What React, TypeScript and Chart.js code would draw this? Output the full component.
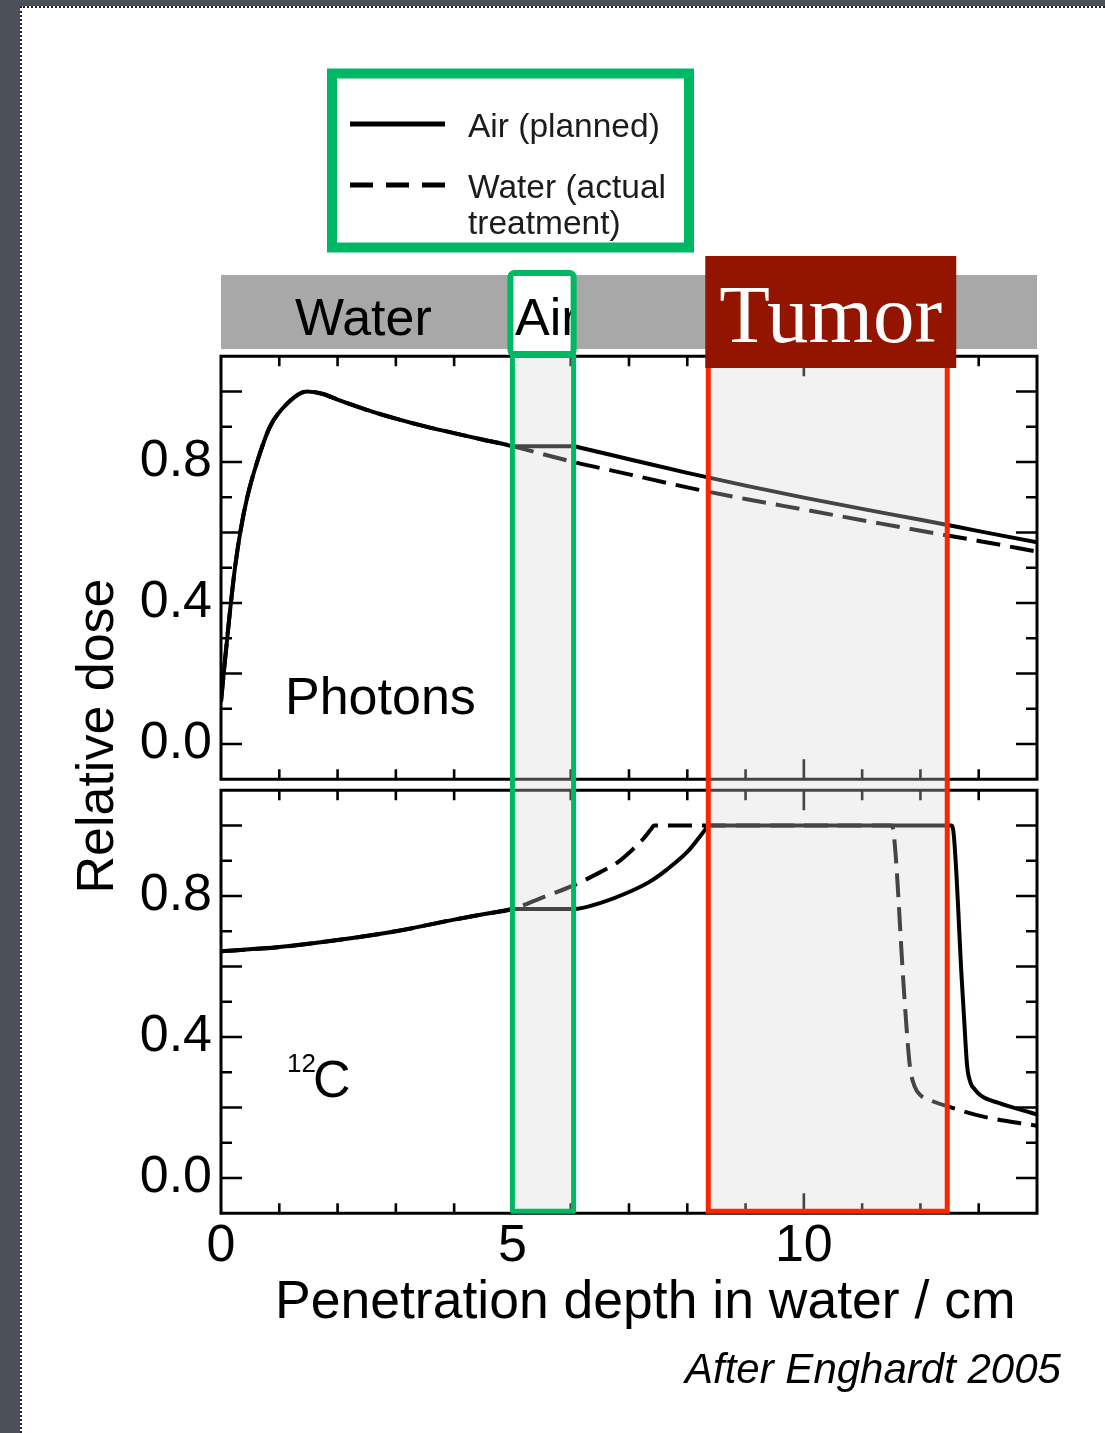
import React, { useEffect, useRef } from "react";
import { Chart, registerables } from "chart.js";

Chart.register(...registerables);

// ---------- data ----------
const photonAirDepth = [0, 0.07, 0.15, 0.24, 0.33, 0.45, 0.62, 0.84, 1.13, 1.47, 1.75, 2.0, 2.5, 3.0, 3.5, 4.0, 4.5, 4.9, 5.0, 6.05, 6.15, 7.0, 8.0, 9.0, 10.0, 11.0, 12.0, 13.0, 14.0];
const photonAirDose = [0.12, 0.24, 0.37, 0.5, 0.6, 0.7, 0.8, 0.9, 0.965, 1.0, 0.993, 0.977, 0.948, 0.923, 0.901, 0.882, 0.863, 0.849, 0.845, 0.845, 0.841, 0.808, 0.769, 0.733, 0.699, 0.667, 0.636, 0.604, 0.572];
const photonWaterDepth = [0, 0.07, 0.15, 0.24, 0.33, 0.45, 0.62, 0.84, 1.13, 1.47, 1.75, 2.0, 2.5, 3.0, 3.5, 4.0, 4.5, 4.9, 5.0, 6.05, 7.0, 8.0, 9.0, 10.0, 11.0, 12.0, 13.0, 14.0];
const photonWaterDose = [0.12, 0.24, 0.37, 0.5, 0.6, 0.7, 0.8, 0.9, 0.965, 1.0, 0.993, 0.977, 0.948, 0.923, 0.901, 0.882, 0.863, 0.849, 0.845, 0.8, 0.765, 0.728, 0.695, 0.665, 0.635, 0.605, 0.576, 0.546];

const carbonAirDepth = [0, 1, 2, 3, 4, 4.5, 4.9, 5.0, 6.05, 6.5, 7.05, 7.35, 7.65, 8.0, 8.2, 8.31, 8.36, 12.53, 12.56, 12.71, 12.75, 12.8, 12.86, 12.93, 13.05, 13.34, 13.9, 14.0];
const carbonAirDose = [0.643, 0.655, 0.675, 0.7, 0.733, 0.748, 0.76, 0.763, 0.763, 0.78, 0.815, 0.84, 0.875, 0.925, 0.965, 0.989, 1.0, 1.0, 0.99, 0.56, 0.45, 0.32, 0.27, 0.252, 0.232, 0.213, 0.185, 0.18];
const carbonWaterDepth = [0, 1, 2, 3, 4, 4.5, 5.0, 5.5, 6.05, 6.5, 6.8, 7.05, 7.25, 7.38, 7.43, 11.5, 11.53, 11.71, 11.76, 11.82, 11.9, 12.0, 12.22, 12.45, 13.08, 14.0];
const carbonWaterDose = [0.643, 0.655, 0.675, 0.7, 0.733, 0.748, 0.763, 0.795, 0.83, 0.867, 0.895, 0.93, 0.963, 0.99, 1.0, 1.0, 0.99, 0.55, 0.43, 0.316, 0.26, 0.235, 0.217, 0.204, 0.174, 0.148];

const seriesLabels = ["Air (planned)", "Water (actual treatment)"];
const xTickLabels = [0, 5, 10];
const yTickLabels = [0, 0.4, 0.8];
const xTickMarks = [1, 2, 3, 4, 5, 6, 7, 8, 9, 10, 11, 12, 13];
const xMajorMarks = [5, 10];
const yTickMarks = [0, 0.1, 0.2, 0.3, 0.4, 0.5, 0.6, 0.7, 0.8, 0.9, 1.0];
const yMajorMarks = [0, 0.2, 0.4, 0.6, 0.8, 1.0];
const airGapRange = [5.0, 6.05];
const tumorRange = [8.36, 12.46];
const layerLabels = ["Water", "Air", "Tumor"];
const panelLabels = ["Photons", "12", "C"];
const axisTitles = ["Relative dose", "Penetration depth in water / cm"];
const creditText = "After Enghardt 2005";

const SANS = "'Liberation Sans', Arial, Helvetica, sans-serif";
const SERIF = "'Liberation Serif', 'Times New Roman', serif";
const GREEN = "#00b864";
const RED = "#ff2400";

const toPoints = (xs: number[], ys: number[]) => xs.map((x, i) => ({ x, y: ys[i] }));

const framePlugin = {
  id: "panelFrame",
  afterDatasetsDraw(chart: any) {
    const { ctx, chartArea: a } = chart;
    const x = chart.scales.x;
    const y = chart.scales.y;
    ctx.save();
    ctx.strokeStyle = "#000";
    ctx.lineWidth = 2.6;
    ctx.beginPath();
    for (const v of xTickMarks) {
      const px = x.getPixelForValue(v);
      const len = xMajorMarks.includes(v) ? 20 : 10;
      ctx.moveTo(px, a.top);
      ctx.lineTo(px, a.top + len);
      ctx.moveTo(px, a.bottom);
      ctx.lineTo(px, a.bottom - len);
    }
    for (const v of yTickMarks) {
      const py = y.getPixelForValue(v);
      const len = yMajorMarks.some((m) => Math.abs(m - v) < 1e-9) ? 21 : 11;
      ctx.moveTo(a.left, py);
      ctx.lineTo(a.left + len, py);
      ctx.moveTo(a.right, py);
      ctx.lineTo(a.right - len, py);
    }
    ctx.stroke();
    ctx.lineWidth = 3;
    ctx.strokeRect(a.left, a.top, a.right - a.left, a.bottom - a.top);
    ctx.restore();
  },
};

function makeDatasets(ax: number[], ay: number[], wx: number[], wy: number[]) {
  return [
    {
      label: seriesLabels[0],
      data: toPoints(ax, ay),
      borderColor: "#000",
      borderWidth: 4,
      pointRadius: 0,
      cubicInterpolationMode: "monotone",
      fill: false,
    },
    {
      label: seriesLabels[1],
      data: toPoints(wx, wy),
      borderColor: "#000",
      borderWidth: 4,
      borderDash: [24, 10],
      pointRadius: 0,
      cubicInterpolationMode: "monotone",
      fill: false,
    },
  ];
}

function yScaleOptions() {
  return {
    type: "linear",
    min: -0.1,
    max: 1.1,
    afterBuildTicks: (s: any) => {
      s.ticks = yTickLabels.map((v) => ({ value: v }));
    },
    afterFit: (s: any) => {
      s.width = 100;
    },
    grid: { display: false, drawTicks: false },
    border: { display: false },
    ticks: {
      padding: 9,
      color: "#000",
      font: { family: SANS, size: 52 },
      callback: (v: any) => Number(v).toFixed(1),
    },
  };
}

export default function App() {
  const refA = useRef<HTMLCanvasElement>(null);
  const refB = useRef<HTMLCanvasElement>(null);

  useEffect(() => {
    if (!refA.current || !refB.current) return;

    const photonLabelPlugin = {
      id: "photonLabel",
      afterDraw(chart: any) {
        const ctx = chart.ctx;
        ctx.save();
        ctx.fillStyle = "#000";
        ctx.font = `52px ${SANS}`;
        ctx.textBaseline = "alphabetic";
        ctx.fillText(panelLabels[0], 285, 714);
        ctx.restore();
      },
    };

    const chartA = new Chart(refA.current, {
      type: "line",
      data: { datasets: makeDatasets(photonAirDepth, photonAirDose, photonWaterDepth, photonWaterDose) as any },
      options: {
        responsive: false,
        animation: false,
        events: [],
        layout: { padding: { left: 121, right: 68, top: 356.25, bottom: 653.75 } },
        plugins: { legend: { display: false }, tooltip: { enabled: false }, title: { display: false } },
        scales: {
          x: { type: "linear", min: 0, max: 14, display: false },
          y: yScaleOptions() as any,
        },
      },
      plugins: [framePlugin, photonLabelPlugin],
    });

    const decorPlugin = {
      id: "decor",
      afterDraw(chart: any) {
        const ctx = chart.ctx as CanvasRenderingContext2D;
        const xs = chart.scales.x;
        const topArea = chartA.chartArea;
        const botArea = chart.chartArea;
        const ax0 = xs.getPixelForValue(airGapRange[0]);
        const ax1 = xs.getPixelForValue(airGapRange[1]);
        const tx0 = xs.getPixelForValue(tumorRange[0]);
        const tx1 = xs.getPixelForValue(tumorRange[1]);
        const boxBottom = botArea.bottom - 2;
        ctx.save();

        // translucent shading over the air gap and the tumour
        ctx.fillStyle = "rgba(215,215,215,0.32)";
        ctx.fillRect(ax0, topArea.top - 2, ax1 - ax0, boxBottom - topArea.top + 2);
        ctx.fillRect(tx0, topArea.top - 2, tx1 - tx0, boxBottom - topArea.top + 2);

        // header band
        ctx.fillStyle = "#a8a8a8";
        ctx.fillRect(botArea.left, 275, botArea.right - botArea.left, 74);
        ctx.fillStyle = "#000";
        ctx.font = `52px ${SANS}`;
        ctx.textBaseline = "alphabetic";
        ctx.textAlign = "left";
        ctx.fillText(layerLabels[0], 295, 335);

        // tall green box
        ctx.strokeStyle = GREEN;
        ctx.lineWidth = 5;
        ctx.lineJoin = "round";
        ctx.strokeRect(ax0, topArea.top - 1, ax1 - ax0, boxBottom - topArea.top + 1);

        // green header box with "Air"
        const hx0 = ax0 - 2;
        const hx1 = ax1;
        ctx.fillStyle = "#fff";
        ctx.fillRect(hx0, 273, hx1 - hx0, 81);
        ctx.save();
        ctx.beginPath();
        ctx.rect(hx0, 273, hx1 - hx0 - 2, 81);
        ctx.clip();
        ctx.fillStyle = "#000";
        ctx.font = `52px ${SANS}`;
        ctx.fillText(layerLabels[1], 515, 335);
        ctx.restore();
        ctx.strokeStyle = GREEN;
        ctx.lineWidth = 6;
        ctx.beginPath();
        (ctx as any).roundRect(hx0, 273, hx1 - hx0, 81, 4);
        ctx.stroke();

        // red tumour box
        ctx.strokeStyle = RED;
        ctx.lineWidth = 5;
        ctx.lineJoin = "miter";
        ctx.strokeRect(tx0, 364, tx1 - tx0, boxBottom - 364);
        ctx.fillStyle = "#931500";
        ctx.fillRect(tx0 - 3, 256, tx1 - tx0 + 12, 112);
        ctx.fillStyle = "#fff";
        ctx.font = `83px ${SERIF}`;
        ctx.textAlign = "center";
        ctx.fillText(layerLabels[2], tx0 - 3 + (tx1 - tx0 + 12) / 2, 342);
        ctx.textAlign = "left";

        // legend
        ctx.fillStyle = "#fff";
        ctx.fillRect(332, 73.5, 357, 174);
        ctx.strokeStyle = GREEN;
        ctx.lineWidth = 10;
        ctx.strokeRect(332, 73.5, 357, 174);
        const rowY = [124, 185];
        chart.data.datasets.forEach((ds: any, i: number) => {
          ctx.strokeStyle = "#000";
          ctx.lineWidth = 5;
          ctx.setLineDash(ds.borderDash ? [23, 13] : []);
          ctx.beginPath();
          ctx.moveTo(350, rowY[i]);
          ctx.lineTo(445, rowY[i]);
          ctx.stroke();
          ctx.setLineDash([]);
          ctx.fillStyle = "#1c1c1c";
          ctx.font = `33.5px ${SANS}`;
          const words = String(ds.label).split(" ");
          const lines: string[] = [];
          let cur = "";
          for (const w of words) {
            const t = cur ? cur + " " + w : w;
            if (ctx.measureText(t).width > 212 && cur) {
              lines.push(cur);
              cur = w;
            } else cur = t;
          }
          lines.push(cur);
          lines.forEach((ln, j) => ctx.fillText(ln, 468, rowY[i] + 13 + j * 36));
        });

        // panel label 12C
        ctx.fillStyle = "#000";
        ctx.font = `26px ${SANS}`;
        ctx.fillText(panelLabels[1], 287, 1072);
        ctx.font = `52px ${SANS}`;
        ctx.fillText(panelLabels[2], 313, 1097);

        // axis titles
        ctx.font = `53.5px ${SANS}`;
        ctx.fillText(axisTitles[1], 275, 1318);
        ctx.save();
        ctx.translate(113, 736);
        ctx.rotate(-Math.PI / 2);
        ctx.textAlign = "center";
        ctx.font = `52px ${SANS}`;
        ctx.fillText(axisTitles[0], 0, 0);
        ctx.restore();

        // credit
        ctx.font = `italic 42px ${SANS}`;
        ctx.fillText(creditText, 685, 1383);
        ctx.restore();
      },
    };

    const chartB = new Chart(refB.current, {
      type: "line",
      data: { datasets: makeDatasets(carbonAirDepth, carbonAirDose, carbonWaterDepth, carbonWaterDose) as any },
      options: {
        responsive: false,
        animation: false,
        events: [],
        layout: { padding: { left: 121, right: 68, top: 790.25, bottom: 159.75 } },
        plugins: { legend: { display: false }, tooltip: { enabled: false }, title: { display: false } },
        scales: {
          x: {
            type: "linear",
            min: 0,
            max: 14,
            afterBuildTicks: (s: any) => {
              s.ticks = xTickLabels.map((v) => ({ value: v }));
            },
            afterFit: (s: any) => {
              s.height = 60;
            },
            grid: { display: false, drawTicks: false },
            border: { display: false },
            ticks: {
              padding: 2,
              autoSkip: false,
              maxRotation: 0,
              minRotation: 0,
              color: "#000",
              font: { family: SANS, size: 52 },
              callback: (v: any) => String(v),
            },
          } as any,
          y: yScaleOptions() as any,
        },
      },
      plugins: [framePlugin, decorPlugin],
    });

    return () => {
      chartB.destroy();
      chartA.destroy();
    };
  }, []);

  return (
    <div style={{ position: "absolute", left: 0, top: 0, width: 1105, height: 1433, background: "#4b5059", overflow: "hidden" }}>
      <div
        style={{
          position: "absolute",
          left: 20,
          top: 6,
          right: 0,
          bottom: 0,
          background: "#fff",
          borderLeft: "2px dotted #222",
          borderTop: "2px dotted #222",
        }}
      />
      <canvas ref={refA} width={1105} height={1433} style={{ position: "absolute", left: 0, top: 0 }} />
      <canvas ref={refB} width={1105} height={1433} style={{ position: "absolute", left: 0, top: 0 }} />
    </div>
  );
}
